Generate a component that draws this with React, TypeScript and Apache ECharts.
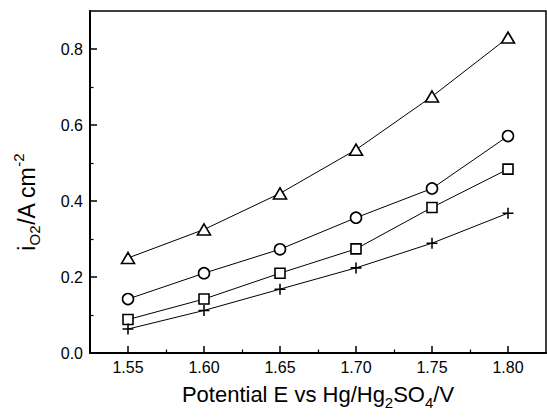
import React, { useEffect, useRef } from "react";
import * as echarts from "echarts";

const potentials = [1.55, 1.6, 1.65, 1.7, 1.75, 1.8];
const triangleValues = [0.25, 0.325, 0.42, 0.535, 0.675, 0.83];
const circleValues = [0.142, 0.21, 0.273, 0.356, 0.433, 0.571];
const squareValues = [0.088, 0.142, 0.21, 0.274, 0.383, 0.484];
const plusValues = [0.063, 0.112, 0.168, 0.224, 0.289, 0.368];
const xMajorTicks = [1.55, 1.6, 1.65, 1.7, 1.75, 1.8];
const xMinorTicks = [1.575, 1.625, 1.675, 1.725, 1.775];
const yMajorTicks = [0, 0.2, 0.4, 0.6, 0.8];
const yMinorTicks = [0.1, 0.3, 0.5, 0.7];

const FONT = "Liberation Sans, Arial, Helvetica, sans-serif";
const PLUS_PATH =
  "path://M4.3,0h1.4v4.3h4.3v1.4h-4.3v4.3h-1.4v-4.3h-4.3v-1.4h4.3z";

function pairs(ys: number[]) {
  return potentials.map((x, i) => [x, ys[i]]);
}

export default function App() {
  const ref = useRef<HTMLDivElement>(null);
  useEffect(() => {
    if (!ref.current) return;
    const chart = echarts.init(ref.current, undefined, { renderer: "svg" });
    const lineStyle = { color: "#000", width: 1 };
    const openItem = { color: "#fff", borderColor: "#000", borderWidth: 1.6 };
    chart.setOption({
      animation: false,
      backgroundColor: "#fff",
      grid: {
        left: 90,
        top: 11,
        right: 1,
        bottom: 66,
        show: true,
        borderColor: "#000",
        borderWidth: 1.5,
      },
      xAxis: [
        {
          type: "value",
          min: 1.525,
          max: 1.825,
          position: "bottom",
          axisLine: { show: true, onZero: false, lineStyle: { color: "#000", width: 2 } },
          axisTick: {
            show: true,
            inside: true,
            length: 7,
            customValues: xMajorTicks,
            lineStyle: { color: "#000", width: 1.5 },
          },
          axisLabel: {
            show: true,
            customValues: xMajorTicks,
            formatter: (v: number) => v.toFixed(2),
            color: "#000",
            fontSize: 16,
            fontFamily: FONT,
            margin: 6,
          },
          splitLine: { show: false },
          name: "{n|Potential E vs Hg/Hg}{s|2}{n|SO}{s|4}{n|/V}",
          nameLocation: "middle",
          nameGap: 23,
          nameTextStyle: {
            color: "#000",
            fontFamily: FONT,
            rich: {
              n: { fontSize: 22, fontFamily: FONT, color: "#000", lineHeight: 26, verticalAlign: "middle" },
              s: {
                fontSize: 15,
                fontFamily: FONT,
                color: "#000",
                lineHeight: 15,
                padding: [15, 0, 0, 0],
                verticalAlign: "middle",
              },
            },
          },
        },
        {
          type: "value",
          min: 1.525,
          max: 1.825,
          position: "bottom",
          axisLine: { show: false, onZero: false },
          axisTick: {
            show: true,
            inside: true,
            length: 3.5,
            customValues: xMinorTicks,
            lineStyle: { color: "#000", width: 1.2 },
          },
          axisLabel: { show: false },
          splitLine: { show: false },
        },
      ],
      yAxis: [
        {
          type: "value",
          min: 0,
          max: 0.9,
          position: "left",
          axisLine: { show: true, onZero: false, lineStyle: { color: "#000", width: 2 } },
          axisTick: {
            show: true,
            inside: true,
            length: 7,
            customValues: yMajorTicks,
            lineStyle: { color: "#000", width: 1.5 },
          },
          axisLabel: {
            show: true,
            customValues: yMajorTicks,
            formatter: (v: number) => v.toFixed(1),
            color: "#000",
            fontSize: 16,
            fontFamily: FONT,
            margin: 7,
          },
          splitLine: { show: false },
          name: "{n|i}{s|O2}{n|/A cm}{p|-2}",
          nameLocation: "middle",
          nameGap: 50,
          nameTextStyle: {
            color: "#000",
            fontFamily: FONT,
            padding: [0, 40, 0, 0],
            rich: {
              n: { fontSize: 23, fontFamily: FONT, color: "#000", lineHeight: 26, verticalAlign: "middle" },
              s: {
                fontSize: 15,
                fontFamily: FONT,
                color: "#000",
                lineHeight: 15,
                padding: [15, 0, 0, 0],
                verticalAlign: "middle",
              },
              p: {
                fontSize: 15,
                fontFamily: FONT,
                color: "#000",
                lineHeight: 15,
                padding: [0, 0, 17, 0],
                verticalAlign: "middle",
              },
            },
          },
        },
        {
          type: "value",
          min: 0,
          max: 0.9,
          position: "left",
          axisLine: { show: false, onZero: false },
          axisTick: {
            show: true,
            inside: true,
            length: 3.5,
            customValues: yMinorTicks,
            lineStyle: { color: "#000", width: 1.2 },
          },
          axisLabel: { show: false },
          splitLine: { show: false },
        },
      ],
      series: [
        {
          type: "line",
          name: "triangle",
          data: pairs(triangleValues),
          symbol: "triangle",
          symbolSize: [13, 11],
          lineStyle,
          itemStyle: openItem,
          z: 3,
        },
        {
          type: "line",
          name: "circle",
          data: pairs(circleValues),
          symbol: "circle",
          symbolSize: 11,
          lineStyle,
          itemStyle: openItem,
          z: 3,
        },
        {
          type: "line",
          name: "square",
          data: pairs(squareValues),
          symbol: "rect",
          symbolSize: 10,
          lineStyle,
          itemStyle: openItem,
          z: 3,
        },
        {
          type: "line",
          name: "plus",
          data: pairs(plusValues),
          symbol: PLUS_PATH,
          symbolSize: 11,
          lineStyle,
          itemStyle: { color: "#000", borderWidth: 0 },
          z: 3,
        },
      ],
    });
    return () => chart.dispose();
  }, []);
  return (
    <div
      ref={ref}
      style={{ position: "absolute", left: 0, top: 0, width: 547, height: 419 }}
    />
  );
}
